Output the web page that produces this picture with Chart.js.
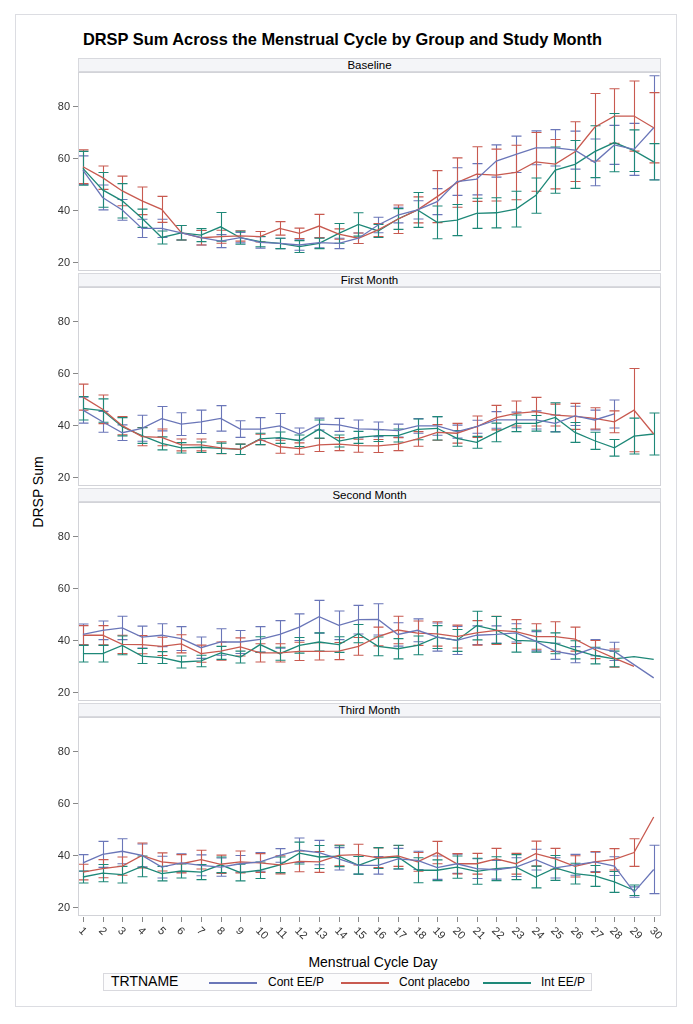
<!DOCTYPE html>
<html><head><meta charset="utf-8">
<script src="https://cdn.jsdelivr.net/npm/chart.js@4.4.1/dist/chart.umd.min.js"></script>
<style>
body{margin:0;background:#fff;width:693px;height:1024px;position:relative;overflow:hidden;font-family:"Liberation Sans",Arial,sans-serif;color:#000}
#frame{position:absolute;left:15px;top:14px;width:662px;height:993px;border:1px solid #dcdde2;box-sizing:border-box}
#title{position:absolute;left:0;width:685px;top:31px;text-align:center;font-weight:bold;font-size:16.4px;line-height:16px}
.strip{position:absolute;left:78px;width:583px;height:14px;background:#f4f5f8;border:1px solid #d8d9de;box-sizing:border-box;font-size:11.5px;line-height:12px;text-align:center}
canvas{position:absolute;left:0}
#ytitle{position:absolute;left:38px;top:492px;transform:translate(-50%,-50%) rotate(-90deg);font-size:14px;white-space:nowrap}
#xtitle{position:absolute;left:373px;top:962px;transform:translate(-50%,-50%);font-size:14px;white-space:nowrap}
#legend{position:absolute;left:103px;top:973px;width:489px;height:18px;border:1px solid #d9d9de;box-sizing:border-box;background:#fcfcfd;font-size:12px}
#legend span{position:absolute;top:1px;line-height:15px;white-space:nowrap}
#legend i{position:absolute;top:8px;height:1.5px;width:48px}
</style></head>
<body>
<div id="frame"></div>
<div id="title">DRSP Sum Across the Menstrual Cycle by Group and Study Month</div>
<div id="ytitle">DRSP Sum</div>
<div id="xtitle">Menstrual Cycle Day</div>
<div id="legend">
<span style="left:7px;font-size:14px;top:0px">TRTNAME</span>
<i style="left:105px;background:#6a76b8"></i><span style="left:164px">Cont EE/P</span>
<i style="left:237px;background:#c85a50"></i><span style="left:295px">Cont placebo</span>
<i style="left:379px;background:#1e8878"></i><span style="left:437px">Int EE/P</span>
</div>
<script>
const days = [1,2,3,4,5,6,7,8,9,10,11,12,13,14,15,16,17,18,19,20,21,22,23,24,25,26,27,28,29,30];
const panelNames = ["Baseline","First Month","Second Month","Third Month"];
const groupNames = ["Cont EE/P","Cont placebo","Int EE/P"];
const yTicks = [20,40,60,80];

// Baseline
const baseContEE = [55.6,45.1,40.3,33.2,33.2,31.5,29.6,28.3,29.6,27.8,27.4,26.8,27.7,27.4,29.4,34.5,38.3,40.3,43.5,51.2,52.1,59.1,61.7,64.2,64.2,63.3,58.6,65.3,63.6,71.9];
const baseContEEErr = [5.5,4.8,4,3.5,3.5,2.8,2.8,2.5,2,2.2,2,2,2,2,2,3,3,3.5,5,5.3,6,6.2,7,6.5,7,7.3,9,7.5,10,20];
const baseContPl = [56.9,52.7,47.6,43.8,40.5,31.5,29.6,30,30.3,30,33.2,31.3,34.1,31.0,29.4,32.6,36.7,40.3,45.4,50.8,54.1,53.7,54.7,58.8,57.9,62.7,72.1,76.4,76.4,71.9];
const baseContPlErr = [6.5,4.5,5.7,5.3,5,2.8,2.8,2.5,2,2,2.6,2,4.5,2,2,2.5,5.5,5,10,9.5,10.5,10,10.5,11.3,9.5,11.5,13,10.5,13.5,13.5];
const baseIntEE = [56.3,48,43.8,37.1,29.7,31.5,30.6,33.8,29.6,28.1,27.4,26.2,27.4,31.3,34.7,32.2,36.8,40.3,35.5,36.4,39.0,39.2,40.6,45.8,55.6,57.8,62.7,66.2,63.1,58.8];
const baseIntEEErr = [6.5,6.7,6.6,3.5,2.5,2.8,2.5,5.5,2.5,2,2,2.3,2,3.8,4.5,2.5,4,6.7,6.3,6,5.8,5.8,6.9,6.8,8.9,9.2,10,11.2,8,7];

// First Month
const m1ContEE = [46,41.5,37.3,39,42.7,40.6,41.5,42.8,38.7,38.7,39.9,36.8,40.6,40.3,38.8,38.6,38.1,39.9,39.9,37.7,39.6,42.2,42.2,42.2,40.9,43.8,42.2,44.5,null,null];
const m1ContEEErr = [5,4,3,5,4.7,4.4,4.5,4.9,3.2,4.4,4.8,2.3,2.3,2.5,3.4,2.8,2.5,2.8,3.6,2.5,2.5,3.2,3,3.5,3.2,3.7,3.8,5.4,null,null];
const m1ContPl = [51,46.3,40,35.8,35.5,32.6,32.6,31.5,30.9,34.7,31.9,31.2,32.6,32.9,32.3,32.2,32.9,34.9,37.4,37.1,39.6,43.1,44.7,45.4,44.1,43.6,42.8,41.5,46,36.8];
const m1ContPlErr = [5,5.5,3.5,3.5,3.2,2.3,2.3,2.3,2,2,2.5,2.2,2.5,2.5,2.5,2.5,2.5,2.8,3,3.8,4.1,4.7,4.8,5.5,4.2,5,4.1,4.2,16,null];
const m1IntEE = [46.7,45.8,39.6,36.2,33.2,31.5,31.7,31.3,30.9,34.9,35.4,34.2,38.7,34.1,35.5,36.2,36.2,38.6,39,35.1,33.6,37.4,40.9,40.9,43.2,37.4,34.2,31.5,36,36.8];
const m1IntEEErr = [4.5,4.5,3.5,3,2.5,2,2,2,2,2.2,2.2,2.2,3.5,2.3,2.3,2.3,2.5,4,4.5,3,2.3,3.6,3.2,3,5.6,3.8,3.3,3.2,6.9,8.1];

// Second Month
const m2ContEE = [42.4,44,44.9,41.4,42.1,40.8,37.3,39.5,39.5,40.5,42.4,45.2,49.2,45.9,48.1,48.2,42.4,44,41.4,40.1,42.1,42.4,43,39.8,35.9,34.6,37.3,35.9,null,25.7];
const m2ContEEErr = [4,3.6,4.5,4.2,4.4,4.6,4.1,5.1,4.4,4.9,5.3,5.1,6.3,5.5,5.5,6,4.5,4.4,5.4,5.4,3.6,3.3,3.5,3.7,3.1,3.1,3.1,3.5,null,null];
const m2ContPl = [42.1,42.1,38.6,38.5,37.8,38.8,35,36,37.6,35.3,35.3,35.9,35.9,36,37.8,41.6,44.1,42.9,42.6,41.6,43,44,43.5,41.6,41.6,40.6,36.6,33.3,30.1,null];
const m2ContPlErr = [3.7,3.7,3.5,3.5,3.5,3.5,3.3,3.5,3.5,3.5,3.5,3.5,3.3,3.3,3.4,3.6,5.3,4.7,4.7,4.4,4.7,5.4,4.6,4.9,5.7,4.6,3.5,3.5,null,null];
const m2IntEE = [35,35,38.2,34.1,33.5,31.8,32.2,35.3,33.7,38.5,35,38.2,39.5,38.5,42.7,37.8,36.9,38.2,41.4,40.1,45.8,44.1,40.1,39.8,39,36.5,34.3,33,33.9,32.8];
const m2IntEEErr = [3.2,3.2,3.6,2.9,2.3,2.3,2.2,2.5,2.3,3,2.5,3,3.5,3,3.5,3.6,3.9,3.6,4.4,4.2,5.5,5.2,4.5,4.2,4,3.5,3.2,3,null,null];

// Third Month
const m3ContEE = [37.2,40.5,41.7,40.1,35.6,37.2,36.3,35.6,36.9,37.6,40.1,42.1,41.2,38.8,36.3,36.3,38.8,38.2,35.4,36.9,35,34.6,35.6,38.5,35.3,36.5,37.6,36,26,34.7];
const m3ContEEErr = [3.2,5,4.8,4.4,4.2,3.5,4,3.5,3.2,3.6,2.6,4.7,4.7,4.3,3.4,3.4,4,3.5,4.5,3.7,3.8,3.6,3.6,4,3.9,4,3.7,3.6,2,9.3];
const m3ContPl = [33.7,35,36,40.1,37.6,36.9,38.5,36.7,37.6,37.2,36.5,37.8,37.6,40.1,40.4,39.2,39.9,37.6,41.2,36.9,36.9,38.8,36.9,40.8,38.8,35.9,37.6,38.6,41.2,54.9];
const m3ContPlErr = [3,3.5,3.5,4.8,3.5,3.5,3.6,3.5,4.2,3.6,3.5,4,4,4,4,3.8,4,3.6,4.3,3.9,4,4,4,4.8,4,4.1,4,4.1,5.3,null];
const m3IntEE = [31.8,33.3,32.7,35.9,33.1,34.1,33.7,36.5,33.5,34.4,36.5,41,39.5,39.8,36.3,39.1,39.5,34.4,34.4,35.6,34,35,35.6,31.8,35.3,33.1,32.2,29.9,26.7,null];
const m3IntEEErr = [2.3,3.3,3.2,4,2.8,2.7,2.9,3,3.2,3.2,3,4.2,4.4,4,3.4,4,4.5,4.8,4,4.3,5,4.6,4.8,4.2,4.8,4,4,4,2,null];

const colors = ["#6a76b8","#c85a50","#1e8878"];
const panels = [
  [[baseContEE,baseContEEErr],[baseContPl,baseContPlErr],[baseIntEE,baseIntEEErr]],
  [[m1ContEE,m1ContEEErr],[m1ContPl,m1ContPlErr],[m1IntEE,m1IntEEErr]],
  [[m2ContEE,m2ContEEErr],[m2ContPl,m2ContPlErr],[m2IntEE,m2IntEEErr]],
  [[m3ContEE,m3ContEEErr],[m3ContPl,m3ContPlErr],[m3IntEE,m3IntEEErr]]
];
const plotTops = [72, 287, 502, 717];
const plotH = 199;

const frameAndErr = {
  id:'frameAndErr',
  beforeDatasetsDraw(chart){
    const ctx = chart.ctx, a = chart.chartArea, xs = chart.scales.x, ys = chart.scales.y;
    ctx.save();
    ctx.beginPath(); ctx.rect(a.left, a.top, a.right-a.left, a.bottom-a.top); ctx.clip();
    chart.data.datasets.forEach(ds=>{
      ctx.strokeStyle = ds.borderColor; ctx.lineWidth = 1.1;
      ds.data.forEach((p,i)=>{
        const e = ds.errors[i];
        if (p.y==null || e==null) return;
        const x = Math.round(xs.getPixelForValue(p.x))+0.5;
        const y1 = ys.getPixelForValue(p.y+e), y2 = ys.getPixelForValue(p.y-e);
        ctx.beginPath();
        ctx.moveTo(x,y1); ctx.lineTo(x,y2);
        ctx.moveTo(x-5,y1); ctx.lineTo(x+5,y1);
        ctx.moveTo(x-5,y2); ctx.lineTo(x+5,y2);
        ctx.stroke();
      });
    });
    ctx.restore();
  },
  afterDraw(chart){
    const ctx = chart.ctx, a = chart.chartArea;
    ctx.save();
    ctx.strokeStyle = '#d2d3d8'; ctx.lineWidth = 1;
    ctx.strokeRect(Math.round(a.left)+0.5, Math.round(a.top)+0.5, Math.round(a.right-a.left)-1, Math.round(a.bottom-a.top)-1);
    if (chart.options.plugins.frameAndErr.xLabels){
      const xs = chart.scales.x;
      ctx.strokeStyle = '#888'; ctx.fillStyle = '#333';
      ctx.font = '11px "Liberation Sans", Arial, sans-serif';
      days.forEach(d=>{
        const x = Math.round(xs.getPixelForValue(d))+0.5;
        ctx.beginPath(); ctx.moveTo(x, a.bottom+1); ctx.lineTo(x, a.bottom+6); ctx.stroke();
        ctx.save();
        ctx.translate(x-3, a.bottom+13);
        ctx.rotate(Math.PI/4);
        ctx.textAlign='left'; ctx.textBaseline='middle';
        ctx.fillText(String(d), 0, 0);
        ctx.restore();
      });
    }
    ctx.restore();
  }
};

panels.forEach((series, pi)=>{
  const strip = document.createElement('div');
  strip.className = 'strip';
  strip.style.top = (plotTops[pi]-14)+'px';
  strip.textContent = panelNames[pi];
  document.body.appendChild(strip);

  const last = pi === 3;
  const padTop = 10, padBot = last ? 40 : 10;
  const cv = document.createElement('canvas');
  const h = plotH + padTop + padBot;
  cv.width = 693; cv.height = h;
  cv.style.width = '693px'; cv.style.height = h+'px';
  cv.style.top = (plotTops[pi]-padTop)+'px';
  document.body.appendChild(cv);

  new Chart(cv, {
    type:'line',
    data:{ datasets: series.map((s,si)=>({
      label: groupNames[si],
      data: days.map((d,i)=>({x:d, y:s[0][i]})),
      errors: s[1],
      borderColor: colors[si],
      backgroundColor: colors[si],
      borderWidth: 1.3,
      pointRadius: 0,
      tension: 0,
      spanGaps: true
    }))},
    options:{
      responsive:false, animation:false,
      layout:{padding:{left:40, right:32, top:padTop, bottom:padBot}},
      plugins:{legend:{display:false}, tooltip:{enabled:false}, frameAndErr:{xLabels:last}},
      scales:{
        x:{type:'linear', min:0.75, max:30.37, display:false},
        y:{
          min:16.8, max:93.35,
          afterBuildTicks: s => { s.ticks = yTicks.map(v=>({value:v})); },
          afterFit: s => { s.width = 38; },
          grid:{drawOnChartArea:false, drawTicks:true, tickLength:5, color:'#888'},
          border:{display:false},
          ticks:{padding:3, color:'#333', font:{size:11, family:'"Liberation Sans", Arial, sans-serif'}}
        }
      }
    },
    plugins:[frameAndErr]
  });
});
</script>
</body></html>
